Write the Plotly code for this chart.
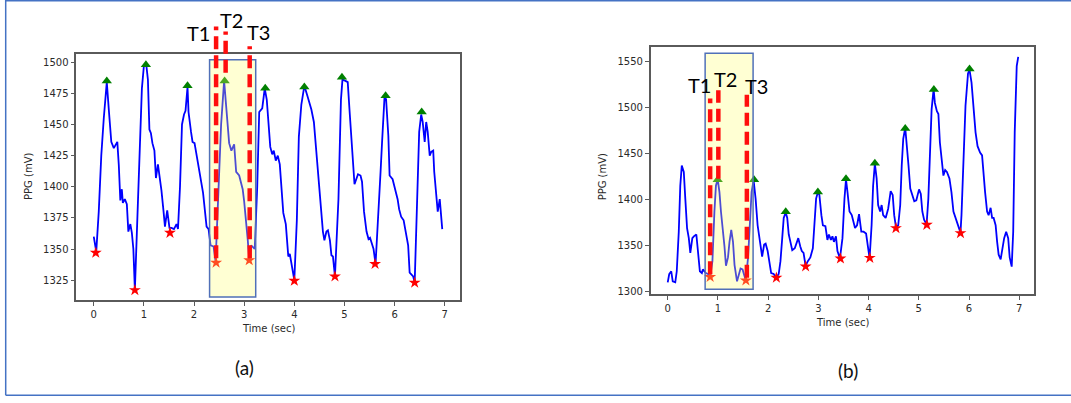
import plotly.graph_objects as go

W, H = 1071, 403

# ---------------- panel (a) data ----------------
A_T = [0.00, 0.05, 0.10, 0.15, 0.20, 0.26, 0.30, 0.35, 0.40, 0.43, 0.47, 0.50, 0.53, 0.56, 0.58,
       0.62, 0.66, 0.69, 0.73, 0.76, 0.79, 0.82, 0.86, 0.91, 0.96, 1.00, 1.05, 1.08, 1.11, 1.14,
       1.17, 1.21, 1.24, 1.28, 1.31, 1.35, 1.39, 1.42, 1.465, 1.49, 1.51, 1.55, 1.60, 1.65, 1.68,
       1.72, 1.76, 1.80, 1.83, 1.87, 1.89, 1.94, 1.97, 2.01, 2.05, 2.11, 2.18, 2.25, 2.29, 2.33,
       2.39, 2.43, 2.48, 2.54, 2.60, 2.66, 2.70, 2.745, 2.80, 2.84, 2.90, 2.97, 3.00, 3.07, 3.10,
       3.14, 3.21, 3.26, 3.30, 3.36, 3.41, 3.45, 3.49, 3.52, 3.56, 3.59, 3.63, 3.67, 3.71, 3.74,
       3.78, 3.83, 3.86, 3.88, 3.91, 3.94, 4.00, 4.05, 4.09, 4.14, 4.20, 4.26, 4.34, 4.39, 4.43,
       4.48, 4.53, 4.57, 4.60, 4.64, 4.67, 4.71, 4.74, 4.77, 4.81, 4.88, 4.93, 4.96, 5.02, 5.065,
       5.10, 5.15, 5.20, 5.27, 5.32, 5.35, 5.39, 5.44, 5.48, 5.51, 5.55, 5.58, 5.62, 5.68, 5.72,
       5.75, 5.80, 5.83, 5.875, 5.90, 5.96, 6.01, 6.06, 6.09, 6.13, 6.18, 6.22, 6.27, 6.30, 6.37,
       6.40, 6.45, 6.49, 6.53, 6.56, 6.60, 6.63, 6.66, 6.70, 6.73, 6.77, 6.79, 6.84, 6.86, 6.90,
       6.95]
A_Y = [1360, 1348, 1380, 1425, 1455, 1484, 1462, 1436, 1431, 1433, 1436, 1417, 1389, 1398, 1387,
       1390, 1386, 1364, 1370, 1363, 1350, 1317, 1360, 1430, 1479, 1497, 1497, 1486, 1446, 1443,
       1435, 1429, 1407, 1418, 1410, 1397, 1381, 1368, 1381, 1372, 1367, 1367, 1366, 1370, 1366,
       1400, 1450, 1458, 1461, 1480, 1460, 1444, 1436, 1435, 1425, 1410, 1395, 1368, 1366, 1353,
       1352, 1340, 1390, 1450, 1485, 1457, 1435, 1429, 1434, 1412, 1409, 1398, 1388, 1358, 1342,
       1353, 1350, 1400, 1460, 1463, 1479, 1470, 1452, 1432, 1426, 1429, 1421, 1425, 1418, 1400,
       1379, 1370, 1357, 1344, 1346, 1339, 1325, 1373, 1440, 1466, 1481, 1473, 1462, 1452, 1433,
       1409, 1385, 1364, 1357, 1364, 1365, 1357, 1345, 1344, 1328, 1390, 1470, 1486, 1485, 1484,
       1462, 1430, 1402, 1410, 1409, 1404, 1380, 1364, 1358, 1359, 1354, 1350, 1338, 1390, 1412,
       1436, 1473, 1470, 1441, 1409, 1406, 1398, 1390, 1382, 1376, 1373, 1364, 1353, 1331, 1328,
       1323, 1390, 1444, 1458, 1452, 1436, 1452, 1444, 1425, 1428, 1429, 1412, 1390, 1380, 1390,
       1366]
A_PEAK_T = [0.26, 1.04, 1.87, 2.61, 3.42, 4.20, 4.95, 5.82, 6.54]
A_PEAK_Y = [1485, 1498, 1481, 1485, 1479, 1480, 1488, 1473, 1460]
A_VAL_T = [0.04, 0.82, 1.52, 2.44, 3.10, 4.00, 4.81, 5.61, 6.40]
A_VAL_Y = [1347, 1317, 1363, 1339, 1341, 1324.5, 1328, 1338, 1323]

# ---------------- panel (b) data ----------------
B_T = [0.00, 0.03, 0.07, 0.10, 0.15, 0.18, 0.22, 0.25, 0.28, 0.32, 0.35, 0.385, 0.42, 0.45, 0.49,
       0.52, 0.57, 0.60, 0.64, 0.68, 0.70, 0.76, 0.80, 0.845, 0.89, 0.93, 0.96, 0.995, 1.03, 1.06,
       1.10, 1.13, 1.16, 1.20, 1.23, 1.265, 1.30, 1.33, 1.38, 1.42, 1.45, 1.49, 1.52, 1.555, 1.60,
       1.64, 1.67, 1.71, 1.75, 1.79, 1.84, 1.88, 1.92, 1.95, 1.99, 2.03, 2.06, 2.11, 2.16, 2.21,
       2.245, 2.28, 2.31, 2.35, 2.38, 2.41, 2.45, 2.48, 2.53, 2.57, 2.60, 2.64, 2.67, 2.705, 2.745,
       2.79, 2.84, 2.89, 2.92, 2.955, 2.99, 3.02, 3.06, 3.09, 3.14, 3.18, 3.21, 3.25, 3.28, 3.31,
       3.35, 3.38, 3.43, 3.48, 3.52, 3.55, 3.58, 3.62, 3.665, 3.70, 3.73, 3.77, 3.81, 3.855, 3.90,
       3.95, 3.99, 4.02, 4.06, 4.09, 4.125, 4.16, 4.19, 4.23, 4.26, 4.29, 4.34, 4.39, 4.44, 4.48,
       4.51, 4.545, 4.59, 4.63, 4.66, 4.69, 4.73, 4.76, 4.795, 4.83, 4.87, 4.91, 4.95, 5.005, 5.04,
       5.07, 5.105, 5.155, 5.19, 5.22, 5.255, 5.295, 5.32, 5.36, 5.39, 5.42, 5.46, 5.49, 5.525, 5.56,
       5.61, 5.65, 5.69, 5.73, 5.78, 5.83, 5.85, 5.90, 5.93, 5.98, 6.01, 6.05, 6.09, 6.13, 6.17,
       6.22, 6.26, 6.29, 6.32, 6.36, 6.39, 6.43, 6.46, 6.49, 6.53, 6.56, 6.59, 6.63, 6.66, 6.70,
       6.74, 6.78, 6.81, 6.85, 6.88, 6.91, 6.95, 6.98]
B_Y = [1310, 1319, 1322, 1311, 1310, 1322, 1365, 1415, 1437, 1430, 1401, 1369, 1358, 1342, 1358,
       1360, 1362, 1344, 1322, 1320, 1324, 1320, 1319, 1316, 1333, 1387, 1415, 1422, 1408, 1387,
       1369, 1349, 1328, 1337, 1354, 1367, 1354, 1329, 1311, 1319, 1325, 1324, 1317, 1312, 1337,
       1372, 1408, 1421, 1401, 1372, 1354, 1338, 1351, 1352, 1344, 1329, 1320, 1319, 1315, 1319,
       1333, 1358, 1380, 1386, 1380, 1362, 1351, 1345, 1347, 1354, 1358, 1349, 1344, 1342, 1328,
       1333, 1337, 1347, 1372, 1401, 1408, 1405, 1383, 1372, 1371, 1356, 1362, 1356, 1360, 1354,
       1360, 1344, 1336, 1358, 1401, 1422, 1408, 1387, 1383, 1376, 1369, 1372, 1384, 1365, 1365,
       1363, 1347, 1336, 1372, 1415, 1439, 1423, 1394, 1387, 1394, 1383, 1380, 1390, 1409, 1405,
       1383, 1370, 1372, 1394, 1437, 1466, 1478, 1462, 1437, 1412, 1405, 1398, 1399, 1411, 1406,
       1387, 1378, 1373, 1401, 1455, 1498, 1520, 1505, 1496, 1493, 1462, 1437, 1426, 1432, 1430,
       1423, 1408, 1387, 1380, 1372, 1364, 1383, 1455, 1502, 1537, 1541, 1527, 1498, 1473, 1458,
       1451, 1448, 1426, 1408, 1387, 1383, 1391, 1380, 1380, 1372, 1354, 1340, 1335, 1344, 1358,
       1365, 1358, 1337, 1327, 1365, 1473, 1545, 1555]
B_PEAK_T = [0.995, 1.72, 2.35, 2.99, 3.55, 4.125, 4.73, 5.30, 6.01]
B_PEAK_Y = [1421.6, 1421.6, 1386.8, 1408.3, 1422.7, 1439.5, 1477.2, 1519.5, 1541.8]
B_VAL_T = [0.845, 1.556, 2.164, 2.746, 3.44, 4.024, 4.545, 5.16, 5.83]
B_VAL_Y = [1315.8, 1312, 1315, 1327.3, 1335.9, 1336.6, 1368.9, 1372.5, 1363.5]

# window / timing annotations (data units)
A_BOX = dict(x0=2.31, x1=3.23, y0=1311.5, y1=1502)
B_BOX = dict(x0=0.745, x1=1.70, y0=1302.5, y1=1559)
T_NAMES = ["T1", "T2", "T3"]
A_TL_X = [2.44, 2.63, 3.11]
A_TL_Y0 = [1342.5, 1491.5, 1342.5]
A_TL_Y1 = [1528.7, 1524.7, 1512.8]
A_TXT_X = [2.09, 2.745, 3.28]
A_TXT_Y = [1523.4, 1534, 1524]
B_TL_X = [0.845, 1.008, 1.576]
B_TL_Y0 = [1318.7, 1422.7, 1315]
B_TL_Y1 = [1509.8, 1518.8, 1514]
B_TXT_X = [0.64, 1.15, 1.77]
B_TXT_Y = [1525, 1531, 1523]

X_TICKS = [0, 1, 2, 3, 4, 5, 6, 7]
A_Y_TICKS = [1325, 1350, 1375, 1400, 1425, 1450, 1475, 1500]
B_Y_TICKS = [1300, 1350, 1400, 1450, 1500, 1550]

# ---------------- layout geometry ----------------
A_XR, A_YR = [-0.348, 7.31], [1308.7, 1506.9]
B_XR, B_YR = [-0.339, 7.30], [1297.5, 1566.2]
A_XD, A_YD = [76.3 / W, 460.3 / W], [1 - 302.7 / H, 1 - 54 / H]
B_XD, B_YD = [650.7 / W, 1034.3 / W], [1 - 296 / H, 1 - 47 / H]


def ypaper(v, rng, dom):
    return dom[0] + (v - rng[0]) / (rng[1] - rng[0]) * (dom[1] - dom[0])


TICK_FONT = dict(family="DejaVu Sans", size=10, color="#2a2a2a")
AX_COL = "#5a5a5a"

fig = go.Figure()

for T, Y, PT, PY, VT, VY, xa, ya in [
    (A_T, A_Y, A_PEAK_T, A_PEAK_Y, A_VAL_T, A_VAL_Y, "x", "y"),
    (B_T, B_Y, B_PEAK_T, B_PEAK_Y, B_VAL_T, B_VAL_Y, "x2", "y2"),
]:
    fig.add_trace(go.Scatter(x=T, y=Y, mode="lines", line=dict(color="#0000ff", width=1.8),
                             xaxis=xa, yaxis=ya, hoverinfo="skip"))
    fig.add_trace(go.Scatter(x=PT, y=PY, mode="markers", xaxis=xa, yaxis=ya,
                             marker=dict(symbol="triangle-up", size=9, color="#008000"),
                             cliponaxis=False))
    fig.add_trace(go.Scatter(x=VT, y=VY, mode="markers", xaxis=xa, yaxis=ya,
                             marker=dict(symbol="star", size=9, color="#ff0000"),
                             cliponaxis=False))

shapes = []
annotations = []

# outer frame lines (left, top, bottom)
FRAME = "#4472c4"
shapes.append(dict(type="line", xref="paper", yref="paper", x0=5.7 / W, x1=5.7 / W,
                   y0=1 - 398.3 / H, y1=1, line=dict(color=FRAME, width=1.5)))
shapes.append(dict(type="line", xref="paper", yref="paper", x0=5.7 / W, x1=1,
                   y0=1 - 0.7 / H, y1=1 - 0.7 / H, line=dict(color=FRAME, width=1.5)))
shapes.append(dict(type="line", xref="paper", yref="paper", x0=5.7 / W, x1=1,
                   y0=1 - 398.3 / H, y1=1 - 398.3 / H, line=dict(color=FRAME, width=1.5)))

for box, xr, yr, XD, YD, xref, yref, TLX, TLY0, TLY1, TX, TY, lab, labx, laby in [
    (A_BOX, A_XR, A_YR, A_XD, A_YD, "x", "y", A_TL_X, A_TL_Y0, A_TL_Y1, A_TXT_X, A_TXT_Y, "(a)", 244, 370),
    (B_BOX, B_XR, B_YR, B_XD, B_YD, "x2", "y2", B_TL_X, B_TL_Y0, B_TL_Y1, B_TXT_X, B_TXT_Y, "(b)", 847.5, 373),
]:
    shapes.append(dict(type="rect", xref=xref, yref=yref, layer="above", **box,
                       fillcolor="rgba(255,255,110,0.3)", line=dict(color="#5070b8", width=1.5)))
    for x, y0, y1 in zip(TLX, TLY0, TLY1):
        shapes.append(dict(type="line", xref=xref, yref="paper", x0=x, x1=x,
                           y0=ypaper(y0, yr, YD), y1=ypaper(y1, yr, YD), layer="above",
                           line=dict(color="#ff0d0d", width=4.5, dash="13px,6px")))
    for name, x, y in zip(T_NAMES, TX, TY):
        annotations.append(dict(text=name, xref=xref, yref="paper", x=x, y=ypaper(y, yr, YD),
                                showarrow=False, xanchor="center", yanchor="middle",
                                font=dict(family="Lato", size=20, color="#000000")))
    annotations.append(dict(text=lab, xref="paper", yref="paper", x=labx / W, y=1 - laby / H,
                            showarrow=False, xanchor="center", yanchor="middle",
                            font=dict(family="Lato", size=19, color="#111111")))
    # axis titles
    annotations.append(dict(text="Time (sec)", xref="paper", yref="paper",
                            x=(XD[0] + XD[1]) / 2, y=YD[0] - 28.5 / H, showarrow=False,
                            xanchor="center", yanchor="middle", font=TICK_FONT))
    annotations.append(dict(text="PPG (mV)", xref="paper", yref="paper",
                            x=XD[0] - 48 / W, y=1 - 178 / H, showarrow=False, textangle=-90,
                            xanchor="center", yanchor="middle", font=TICK_FONT))


def axis(domain, rng, ticks, anchor):
    return dict(domain=domain, range=rng, tickvals=ticks, ticks="outside", ticklen=4,
                tickwidth=1.2, tickcolor=AX_COL, showline=True, linecolor=AX_COL, linewidth=1.6,
                mirror=True, showgrid=False, zeroline=False, anchor=anchor, tickfont=TICK_FONT,
                fixedrange=True)


fig.update_layout(
    width=W, height=H, margin=dict(l=0, r=0, t=0, b=0),
    paper_bgcolor="white", plot_bgcolor="white", showlegend=False,
    xaxis=axis(A_XD, A_XR, X_TICKS, "y"),
    yaxis=axis(A_YD, A_YR, A_Y_TICKS, "x"),
    xaxis2=axis(B_XD, B_XR, X_TICKS, "y2"),
    yaxis2=axis(B_YD, B_YR, B_Y_TICKS, "x2"),
    shapes=shapes, annotations=annotations,
)

fig.write_html("out.html", config={"displayModeBar": False},
               post_script="document.body.style.margin='0px';document.body.style.overflow='hidden';")
